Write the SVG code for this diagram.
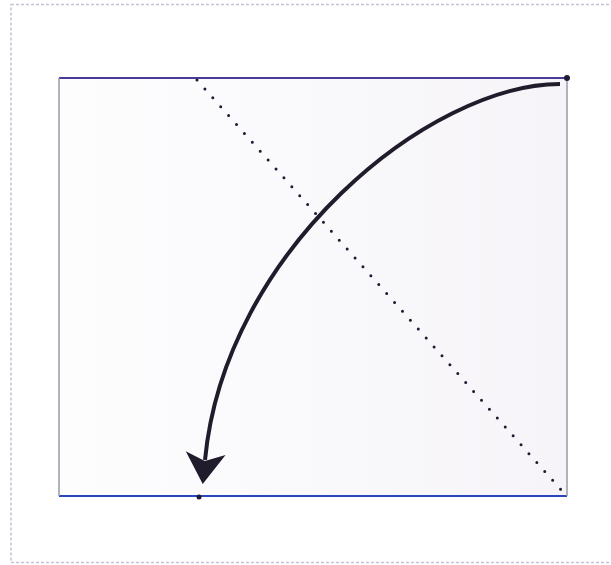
<svg xmlns="http://www.w3.org/2000/svg" width="611" height="565" viewBox="0 0 611 565">
<defs>
<linearGradient id="bg" x1="0" y1="0" x2="1" y2="0">
<stop offset="0" stop-color="#fdfdfe"/>
<stop offset="1" stop-color="#f6f4f8"/>
</linearGradient>
<marker id="ah" viewBox="0 0 32 40" refX="7" refY="20" markerWidth="32" markerHeight="40" markerUnits="userSpaceOnUse" orient="auto" overflow="visible">
<path d="M0,0 L31,20 L0,40 L8,20 Z" fill="#211c2c"/>
</marker>
<style>
.frame{fill:none;stroke:#c9bfd6;stroke-width:1.5;stroke-dasharray:3 2}
.dot{fill:#1f1a33}
</style>
</defs>
<rect width="611" height="565" fill="#ffffff"/>
<rect class="frame" x="11" y="4.5" width="620" height="558"/>
<g id="box">
<rect x="59" y="78" width="508" height="418" fill="url(#bg)" stroke="none"/>
<line x1="59" y1="78" x2="567" y2="78" stroke="#4a3a9a" stroke-width="2"/>
<line x1="59" y1="496" x2="567" y2="496" stroke="#2a45c0" stroke-width="2"/>
<line x1="59" y1="78" x2="59" y2="496" stroke="#9a98a6" stroke-width="1.5"/>
<line x1="567" y1="78" x2="567" y2="496" stroke="#9a98a6" stroke-width="1.5"/>
<circle class="dot" cx="567" cy="78" r="3"/>
<circle class="dot" cx="199" cy="497" r="2.5"/>
</g>
<g id="connectors">
<line x1="197" y1="80" x2="563" y2="492" stroke="#1f1a33" stroke-width="3" stroke-linecap="round" stroke-dasharray="0 11.9"/>
<path d="M560,84 C430,84 225,250 205,460" fill="none" stroke="#211c2c" stroke-width="4" marker-end="url(#ah)"/>
</g>
</svg>
